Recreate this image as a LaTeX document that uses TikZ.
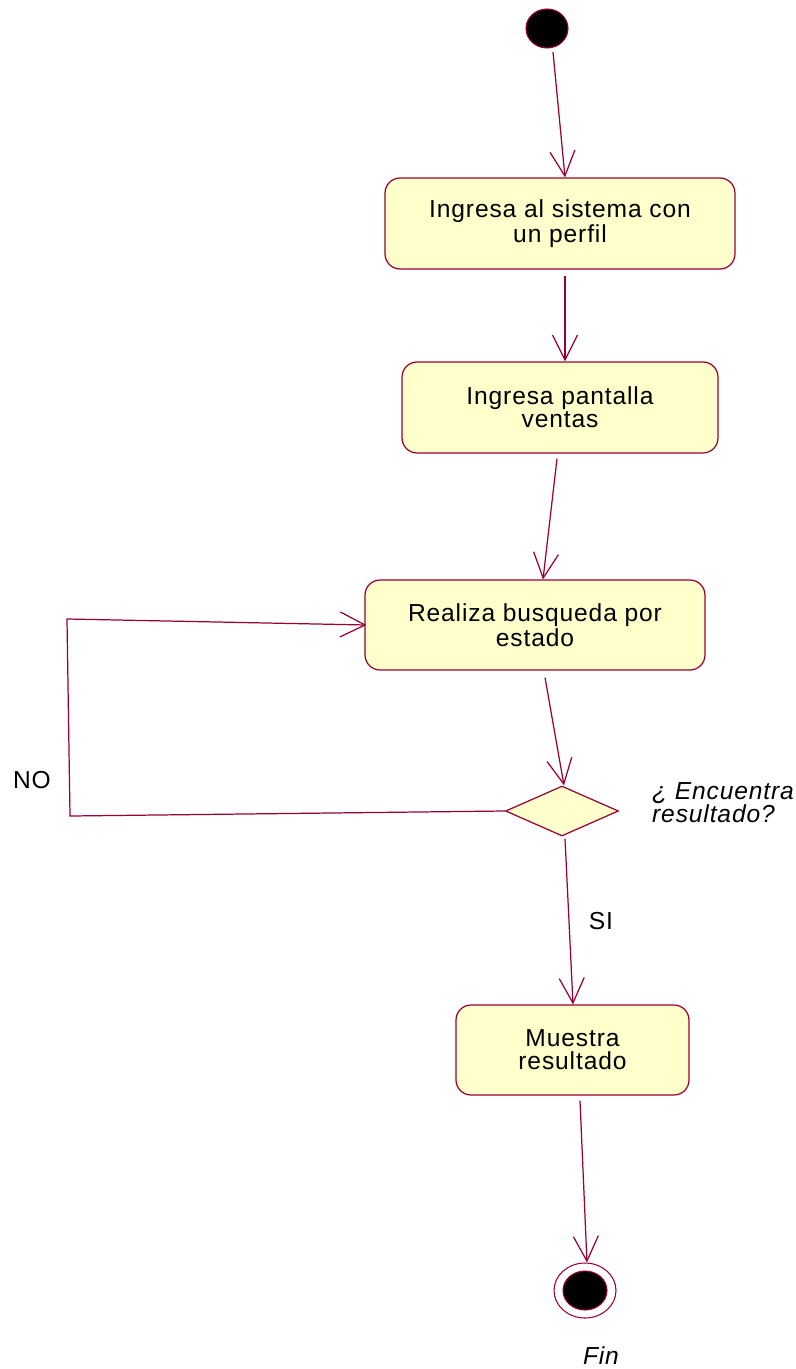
\documentclass[tikz,border=0pt]{standalone}
\usepackage{fontspec}
\setmainfont{Liberation Sans}[LetterSpace=3.5]
\usepackage{tikz}
\usetikzlibrary{positioning,arrows.meta,shapes.geometric}
\definecolor{actline}{RGB}{153,0,51}
\definecolor{actfill}{RGB}{255,255,204}
\tikzset{
  actbox/.style={draw=actline, fill=actfill, rounded corners=3mm, align=center,
    line width=0.7pt, inner sep=0pt, font=\fontsize{14pt}{13pt}\selectfont},
  actflow/.style={draw=actline, line width=0.7pt, -{Straight Barb[length=5mm,width=5mm]}},
  actlabel/.style={font=\fontsize{14pt}{13pt}\selectfont, align=left},
}

\begin{document}
\begin{tikzpicture}[x=0.02cm, y=-0.02cm,
    startdot/.style={ellipse, draw=actline, fill=black, line width=0.6pt,
      minimum width=8.4mm, minimum height=7.8mm, inner sep=0pt},
    choice/.style={diamond, draw=actline, fill=actfill, line width=0.7pt,
      minimum width=22.6mm, minimum height=10mm, inner sep=0pt}]
  \useasboundingbox (0,0) rectangle (795,1369);
  % inicio y actividades
  \node[startdot] (start) at (547,28.5) {};
  \node[actbox, minimum width=70mm, minimum height=18.2mm] (act1) at (560,223.5)
    {Ingresa al sistema con\\un perfil};
  \node[actbox, minimum width=63.2mm, minimum height=18.2mm] (act2) at (560,407.5)
    {Ingresa pantalla\\ventas};
  \node[actbox, minimum width=68mm, minimum height=18mm] (act3) at (535,625)
    {Realiza busqueda por\\estado};
  \node[choice] (dec) at (562,811) {};
  \node[actlabel, anchor=west, font=\fontsize{14pt}{13pt}\selectfont\itshape] (decq) at (646,803)
    {¿ Encuentra\\resultado?};
  \node[actbox, minimum width=46.6mm, minimum height=18mm] (act4) at (572.5,1050)
    {Muestra\\resultado};
  % fin
  \node[ellipse, draw=actline, line width=0.6pt, minimum width=12.4mm, minimum height=11mm,
    inner sep=0pt] (fin) at (585,1290.5) {};
  \node[startdot, minimum width=8.8mm, minimum height=7.8mm] (findot) at (585,1290.5) {};
  \node[actlabel, font=\fontsize{14pt}{13pt}\selectfont\itshape] (finlab) at (601,1356) {Fin};
  % flujos
  \draw[actflow] ([xshift=1.2mm,yshift=-0.7mm]start.south) -- ([xshift=1mm]act1.north);
  \draw[actflow] ([xshift=1mm,yshift=-1.2mm]act1.south) -- ([xshift=1mm]act2.north);
  \draw[actflow] ([xshift=-0.6mm,yshift=-1mm]act2.south) -- ([xshift=1.6mm]act3.north);
  \draw[actflow] ([xshift=2mm,yshift=-1.4mm]act3.south) -- ([xshift=0.4mm]dec.north);
  % rama NO
  \coordinate (noA) at (70,816);
  \coordinate (noB) at (67,619);
  \draw[actflow] (dec.west) -- (noA) -- (noB) -- ([xshift=0.4mm]act3.west);
  \node[actlabel] (nolab) at (32,780) {NO};
  % rama SI
  \draw[actflow] ([xshift=0.6mm,yshift=-0.4mm]dec.south) -- ([xshift=0.1mm]act4.north);
  \node[actlabel] (silab) at (601,921) {SI};
  \draw[actflow] ([xshift=1.5mm,yshift=-1mm]act4.south) -- ([xshift=0.4mm]fin.north);
\end{tikzpicture}
\end{document}
